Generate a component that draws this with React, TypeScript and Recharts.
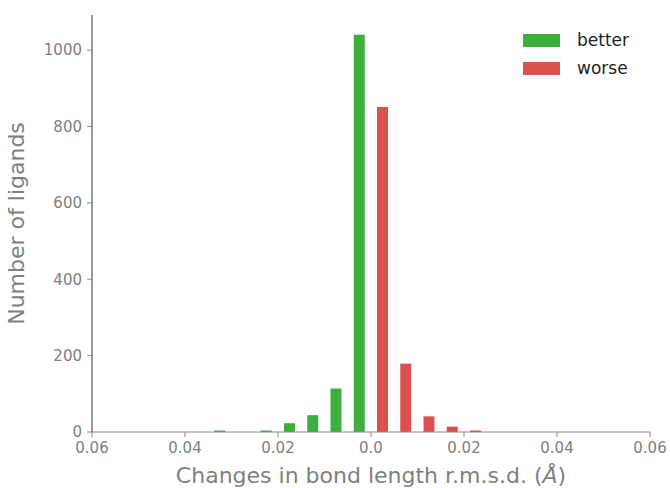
import React from 'react';
import { ComposedChart, Bar, XAxis, YAxis, Legend } from 'recharts';

const binCenters = [-0.0325, -0.0225, -0.0175, -0.0125, -0.0075, -0.0025, 0.0025, 0.0075, 0.0125, 0.0175, 0.0225];
const betterCounts = [4, 4, 23, 44, 114, 1040, 0, 0, 0, 0, 0];
const worseCounts = [0, 0, 0, 0, 0, 0, 851, 179, 41, 14, 4];
const xTicks = [-0.06, -0.04, -0.02, 0, 0.02, 0.04, 0.06];
const yTicks = [0, 200, 400, 600, 800, 1000];

const GREEN = '#3caf3c';
const RED = '#dc5050';
const FONT = '"DejaVu Sans", sans-serif';

const data = binCenters.map((x, i) => ({ x, better: betterCounts[i], worse: worseCounts[i] }));

const fmtX = (v: number) => (v === 0 ? '0.0' : Math.abs(v).toFixed(2));

const renderLegend = () => (
  <div style={{ fontFamily: FONT, fontSize: 17, color: '#222' }}>
    {[
      { c: GREEN, l: 'better' },
      { c: RED, l: 'worse' },
    ].map((it) => (
      <div key={it.l} style={{ display: 'flex', alignItems: 'center', height: 28 }}>
        <div style={{ width: 37, height: 13, background: it.c, marginRight: 17 }} />
        <span style={{ lineHeight: '17px' }}>{it.l}</span>
      </div>
    ))}
  </div>
);

const XLabel = (props: any) => {
  const vb = props.viewBox || {};
  const cx = vb.x + vb.width / 2;
  return (
    <text
      x={cx}
      y={483}
      textAnchor="middle"
      fill="#808080"
      fontSize={22}
      fontFamily={FONT}
    >
      Changes in bond length r.m.s.d. (<tspan fontStyle="italic">Å</tspan>)
    </text>
  );
};

export default function App() {
  return (
    <div style={{ position: 'absolute', left: 0, top: 0, width: 670, height: 488, background: '#fff' }}>
      <ComposedChart
        width={670}
        height={488}
        data={data}
        margin={{ top: 15, right: 20, left: 0, bottom: 0 }}
      >
        <XAxis
          dataKey="x"
          type="number"
          domain={[-0.06, 0.06]}
          ticks={xTicks}
          tickFormatter={fmtX}
          height={56}
          stroke="#8a8a8a"
          tickSize={5}
          tickMargin={5}
          tick={{ fill: '#808080', fontSize: 15, fontFamily: FONT }}
          label={<XLabel />}
        />
        <YAxis
          type="number"
          domain={[0, 1092]}
          ticks={yTicks}
          width={92}
          stroke="#333"
          tickLine={{ stroke: '#888' }}
          tickSize={5}
          tickMargin={5}
          tick={{ fill: '#808080', fontSize: 15, fontFamily: FONT }}
          label={{
            value: 'Number of ligands',
            angle: -90,
            position: 'insideLeft',
            offset: 16,
            fill: '#808080',
            fontSize: 22,
            fontFamily: FONT,
            style: { textAnchor: 'middle' },
          }}
        />
        <Legend
          verticalAlign="middle"
          align="center"
          layout="vertical"
          content={renderLegend}
          wrapperStyle={{ top: 26, left: 523, width: 140 }}
        />
        <Bar dataKey="better" stackId="a" fill={GREEN} barSize={11} isAnimationActive={false} />
        <Bar dataKey="worse" stackId="a" fill={RED} barSize={11} isAnimationActive={false} />
      </ComposedChart>
    </div>
  );
}
